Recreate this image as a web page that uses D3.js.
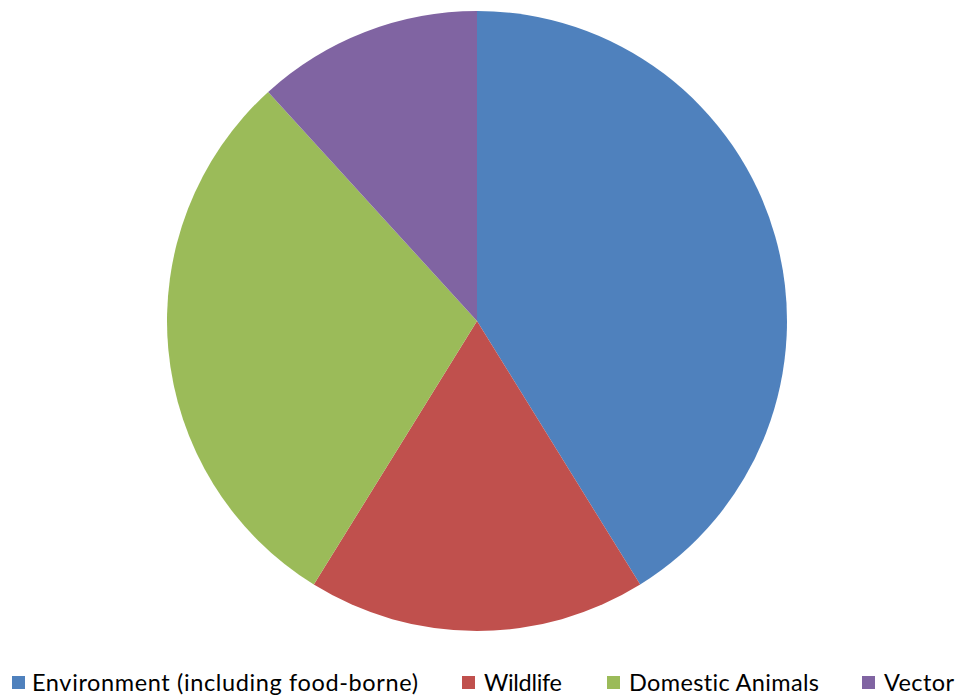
<!DOCTYPE html>
<html><head><meta charset="utf-8">
<script src="https://cdn.jsdelivr.net/npm/d3@7"></script>
<style>body{margin:0;background:#fff}svg{display:block}text{font-variant-ligatures:none}</style>
</head><body>
<svg id="c" width="960" height="698"></svg>
<script>
const categories = ["Environment (including food-borne)", "Wildlife", "Domestic Animals", "Vector"];
const values = [14, 6, 10, 4];
const colors = ["#4F81BD", "#C0504D", "#9BBB59", "#8064A2"];
const legendX = [12, 462, 607, 862];
const legendTextW = [386, 78, 190, 70];

const svg = d3.select("#c");
const cx = 477, cy = 321, r = 310;
const pie = d3.pie().sort(null).value(d => d)(values);
const arc = d3.arc().innerRadius(0).outerRadius(r);
svg.append("g").attr("transform", `translate(${cx},${cy})`)
  .selectAll("path").data(pie).join("path")
  .attr("d", arc).attr("fill", (d, i) => colors[i]);

const lg = svg.append("g");
categories.forEach((c, i) => {
  const g = lg.append("g").attr("transform", `translate(${legendX[i]},0)`);
  g.append("rect").attr("x", 0).attr("y", 676).attr("width", 13).attr("height", 13).attr("fill", colors[i]);
  g.append("text").attr("x", i === 0 ? 20 : 22).attr("y", 691).attr("font-family", "Lato, sans-serif")
    .attr("font-size", 23.5).attr("fill", "#000")
    .attr("textLength", legendTextW[i]).attr("lengthAdjust", "spacing").text(c);
});
</script>
</body></html>
